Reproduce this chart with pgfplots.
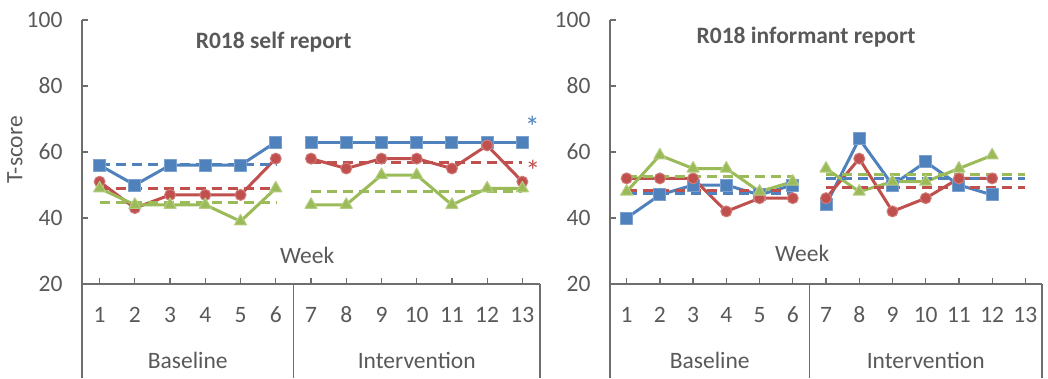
\documentclass[border=0pt]{standalone}
\usepackage{pgfplots}
\pgfplotsset{compat=1.18}
\usepackage{fontspec}
\setmainfont{Carlito}

\definecolor{sblue}{HTML}{4F81BD}
\definecolor{sred}{HTML}{C0504D}
\definecolor{sgreen}{HTML}{9BBB59}
\definecolor{txt}{HTML}{595959}
\definecolor{axl}{HTML}{6E6E6E}

% T-scores per week
\pgfplotstableread{
wk blue red green
1 56 51 49
2 50 43 44
3 56 47 44
4 56 47 44
5 56 47 39
6 63 58 49
}\selfbase
\pgfplotstableread{
wk blue red green
7 63 58 44
8 63 55 44
9 63 58 53
10 63 58 53
11 63 55 44
12 63 62 49
13 63 51 49
}\selfint
\pgfplotstableread{
wk blue red green
1 40 52 48
2 47 52 59
3 50 52 55
4 50 42 55
5 47 46 48
6 50 46 51
}\infbase
\pgfplotstableread{
wk blue red green
7 44 46 55
8 64 58 48
9 50 42 51
10 57 46 51
11 50 52 55
12 47 52 59
}\infint

\tikzset{phasebox/.style={axl, line width=1.6pt}}

\pgfplotsset{
  panel/.style={
    scale only axis, height=264pt,
    anchor=south west,
    xmin=0.5, xmax=13.5, ymin=20, ymax=100,
    axis lines=left, axis line style={axl, line width=1.6pt, -},
    tick align=inside, major tick length=6pt,
    tick style={axl, line width=1.3pt},
    xtick={1,...,13},
    ytick={20,40,...,100},
    xticklabel style={anchor=base, yshift=-38pt},
    yticklabel style={xshift=-16pt},
    ticklabel style={font=\fontsize{23.5}{28}\selectfont, text=txt},
    /pgf/number format/assume math mode=true,
    clip=false,
  },
  sline/.style={line width=3pt, line join=round, mark size=5.5pt},
  mline/.style={line width=3pt, dash pattern=on 10pt off 6pt},
  bl/.style={sline, sblue, mark=square*, mark size=6pt, mark options={solid, fill=sblue, draw=sblue!75!white, line width=1pt}},
  rd/.style={sline, sred, mark=*, mark options={solid, fill=sred, draw=sred!75!white, line width=1pt}},
  gr/.style={sline, sgreen, mark=triangle*, mark size=7pt, mark options={solid, fill=sgreen, draw=sgreen!75!white, line width=1pt}},
}

\newcommand{\lbl}{\fontsize{23.5}{28}\selectfont\color{txt}}

\begin{document}
\begin{tikzpicture}
\path[use as bounding box] (0,0) rectangle (1048pt,378pt);

% ---------- self report ----------
\begin{axis}[panel, at={(82pt,94pt)}, width=458pt]
  \addplot[bl] table[x=wk,y=blue] {\selfbase};
  \addplot[bl] table[x=wk,y=blue] {\selfint};
  \addplot[rd] table[x=wk,y=red] {\selfbase};
  \addplot[rd] table[x=wk,y=red] {\selfint};
  \addplot[gr] table[x=wk,y=green] {\selfbase};
  \addplot[gr] table[x=wk,y=green] {\selfint};
  % phase means
  \addplot[mline, sblue] coordinates {(1,56.17) (6,56.17)};
  \addplot[mline, sblue] coordinates {(7,63) (13,63)};
  \addplot[mline, sred] coordinates {(1,48.83) (6,48.83)};
  \addplot[mline, sred] coordinates {(7,56.71) (13,56.71)};
  \addplot[mline, sgreen] coordinates {(1,44.83) (6,44.83)};
  \addplot[mline, sgreen] coordinates {(7,48) (13,48)};
  % phase boxes below the axis
  \draw[phasebox] (axis cs:0.5,20) -- ++(0pt,-94pt);
  \draw[phasebox] (axis cs:6.5,20) -- ++(0pt,-94pt);
  \draw[phasebox] (axis cs:13.5,20) -- ++(0pt,-94pt);
  \node[font=\lbl] at (axis cs:3.5,20) [yshift=-76pt] {Baseline};
  \node[font=\lbl] at (axis cs:10,20) [yshift=-76pt] {Intervention};
  \node[font=\lbl] at (axis cs:6.89,28.8) {Week};
  \node[font=\fontsize{23.5}{28}\selectfont\bfseries\color{txt}] at (axis cs:5.94,93.3) {R018 self report};
  \node[font=\fontsize{30}{30}\selectfont\color{sblue}] at (axis cs:13.28,67.5) {*};
  \node[font=\fontsize{30}{30}\selectfont\color{sred}] at (axis cs:13.30,54.2) {*};
  \node[font=\lbl, xshift=-67pt, rotate=90] at (rel axis cs:0,0.508) {T-score};
\end{axis}

% ---------- informant report ----------
\begin{axis}[panel, at={(610pt,94pt)}, width=432pt]
  \addplot[bl] table[x=wk,y=blue] {\infbase};
  \addplot[bl] table[x=wk,y=blue] {\infint};
  \addplot[rd] table[x=wk,y=red] {\infbase};
  \addplot[rd] table[x=wk,y=red] {\infint};
  \addplot[gr] table[x=wk,y=green] {\infbase};
  \addplot[gr] table[x=wk,y=green] {\infint};
  \addplot[mline, sblue] coordinates {(1,47.33) (6,47.33)};
  \addplot[mline, sblue] coordinates {(7,52) (13,52)};
  \addplot[mline, sred] coordinates {(1,48.33) (6,48.33)};
  \addplot[mline, sred] coordinates {(7,49.33) (13,49.33)};
  \addplot[mline, sgreen] coordinates {(1,52.67) (6,52.67)};
  \addplot[mline, sgreen] coordinates {(7,53.17) (13,53.17)};
  \draw[phasebox] (axis cs:0.5,20) -- ++(0pt,-94pt);
  \draw[phasebox] (axis cs:6.5,20) -- ++(0pt,-94pt);
  \draw[phasebox] (axis cs:13.5,20) -- ++(0pt,-94pt);
  \node[font=\lbl] at (axis cs:3.5,20) [yshift=-76pt] {Baseline};
  \node[font=\lbl] at (axis cs:10,20) [yshift=-76pt] {Intervention};
  \node[font=\lbl] at (axis cs:6.28,29.4) {Week};
  \node[font=\fontsize{23.5}{28}\selectfont\bfseries\color{txt}] at (axis cs:6.4,94.8) {R018 informant report};
\end{axis}
\end{tikzpicture}
\end{document}
